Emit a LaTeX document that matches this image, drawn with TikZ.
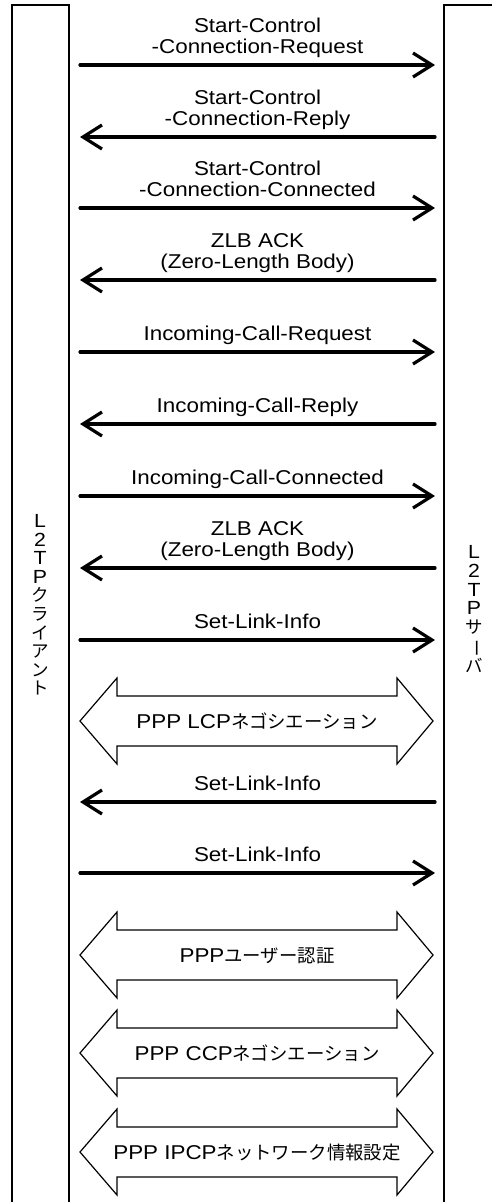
\documentclass[tikz,border=0pt]{standalone}
\usepackage{fontspec}
\setmainfont[FakeStretch=1.12]{Liberation Sans}
\newfontfamily\cjkfont[Scale=0.92]{Noto Sans CJK JP}
\newcommand\jtxt[1]{{\cjkfont #1}}
\usetikzlibrary{arrows.meta}
\tikzset{
  msg/.style={line width=3.2pt, line cap=round, -{Straight Barb[length=19pt,width=24pt]}},
  lbl/.style={anchor=base, inner sep=0pt, font=\fontsize{20}{24}\selectfont},
  frame/.style={line width=2pt},
  dbl/.style={line width=1.2pt, line join=miter},
  vlbl/.style={align=center, inner sep=0pt, font=\fontsize{19}{18.6}\selectfont}
}
\newcommand\msgR[2]{%
  \coordinate (#2l) at (80,#1); \coordinate (#2r) at (435,#1);
  \draw[msg] (#2l) -- (#2r);}
\newcommand\msgL[2]{%
  \coordinate (#2l) at (80,#1); \coordinate (#2r) at (435,#1);
  \draw[msg] (#2r) -- (#2l);}
\newcommand\dblarr[3]{%
  \draw[dbl] (80,#1) -- (117,#1-43) -- (117,#1-25) -- (397,#1-25) -- (397,#1-43)
    -- (433,#1) -- (397,#1+43) -- (397,#1+25) -- (117,#1+25) -- (117,#1+43) -- cycle;
  \node[lbl] (#2) at (257,#1+7) {#3};}
\begin{document}
\begin{tikzpicture}[x=1pt,y=-1pt]
\useasboundingbox (0,0) rectangle (492,1202);
% frames
\draw[frame] (12,1210) -- (12,5) -- (69,5) -- (69,1210);
\draw[frame] (444,1210) -- (444,5) -- (500,5);
% vertical labels
\node[vlbl] (client) at (40,605) {L\\2\\T\\P\\\jtxt{ク}\\\jtxt{ラ}\\\jtxt{イ}\\\jtxt{ア}\\\jtxt{ン}\\\jtxt{ト}};
\node[vlbl] (server) at (474,609) {L\\2\\T\\P\\\jtxt{サ}\\\rotatebox[origin=c]{-90}{\jtxt{ー}}\\\jtxt{バ}};
% messages
\msgR{65}{m1}
\node[lbl] (m1a) at (257.5,32) {Start-Control};
\node[lbl] (m1b) at (257.5,53) {-Connection-Request};
\msgL{137}{m2}
\node[lbl] (m2a) at (257.5,104) {Start-Control};
\node[lbl] (m2b) at (257.5,125) {-Connection-Reply};
\msgR{208}{m3}
\node[lbl] (m3a) at (257.5,175) {Start-Control};
\node[lbl] (m3b) at (257.5,196) {-Connection-Connected};
\msgL{280}{m4}
\node[lbl] (m4a) at (257.5,247) {ZLB ACK};
\node[lbl] (m4b) at (257.5,268) {(Zero-Length Body)};
\msgR{352}{m5}
\node[lbl] (m5a) at (257.5,340) {Incoming-Call-Request};
\msgL{424}{m6}
\node[lbl] (m6a) at (257.5,412) {Incoming-Call-Reply};
\msgR{496}{m7}
\node[lbl] (m7a) at (257.5,484) {Incoming-Call-Connected};
\msgL{568}{m8}
\node[lbl] (m8a) at (257.5,535) {ZLB ACK};
\node[lbl] (m8b) at (257.5,556) {(Zero-Length Body)};
\msgR{640}{m9}
\node[lbl] (m9a) at (257.5,628) {Set-Link-Info};
\dblarr{721}{lcp}{PPP LCP\jtxt{ネゴシエーション}}
\msgL{802}{m11}
\node[lbl] (m11a) at (257.5,790) {Set-Link-Info};
\msgR{873}{m12}
\node[lbl] (m12a) at (257.5,861) {Set-Link-Info};
\dblarr{955}{auth}{PPP\jtxt{ユーザー認証}}
\dblarr{1053}{ccp}{PPP CCP\jtxt{ネゴシエーション}}
\dblarr{1152}{ipcp}{PPP IPCP\jtxt{ネットワーク情報設定}}
\end{tikzpicture}
\end{document}
